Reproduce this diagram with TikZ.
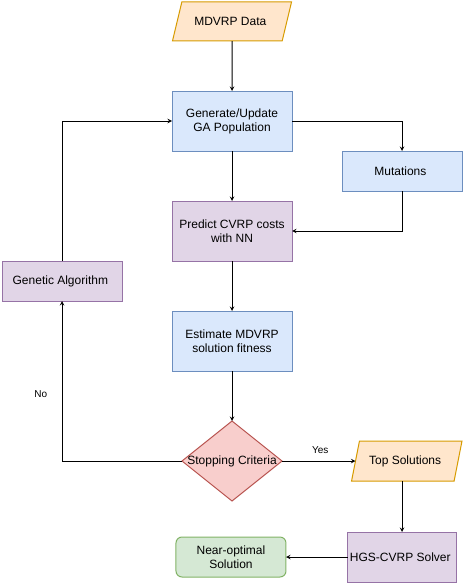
\documentclass[tikz,border=0pt]{standalone}
\usepackage{fontspec}
\setmainfont{Liberation Sans}
\usepackage{tikz}
\usetikzlibrary{shapes}
\usetikzlibrary{positioning}

\definecolor{bluefill}{HTML}{DAE8FC}
\definecolor{bluedraw}{HTML}{6C8EBF}
\definecolor{purplefill}{HTML}{E1D5E7}
\definecolor{purpledraw}{HTML}{9673A6}
\definecolor{orangefill}{HTML}{FFE6CC}
\definecolor{orangedraw}{HTML}{D79B00}
\definecolor{redfill}{HTML}{F8CECC}
\definecolor{reddraw}{HTML}{B85450}
\definecolor{greenfill}{HTML}{D5E8D4}
\definecolor{greendraw}{HTML}{82B366}

\begin{document}
\begin{tikzpicture}[
    x=1pt,
    y=-1pt,
    node distance=50pt,
    font=\fontsize{12}{14}\selectfont,
    box/.style={
        draw,
        line width=1pt,
        outer sep=0pt,
        minimum width=120pt,
        minimum height=60pt,
        inner xsep=2pt,
        align=center
    },
    bluebox/.style={
        box,
        fill=bluefill,
        draw=bluedraw
    },
    purplebox/.style={
        box,
        fill=purplefill,
        draw=purpledraw
    },
    iobox/.style={
        draw=orangedraw,
        fill=orangefill,
        line width=1pt,
        outer sep=0pt,
        trapezium,
        trapezium stretches=true,
        align=center
    },
    arrow/.style={
        ->,
        >=stealth,
        line width=1pt
    },
    edgelabel/.style={
        font=\fontsize{10}{12}\selectfont
    }
]

    \useasboundingbox (0,0) rectangle (464,586);

    \node[iobox,minimum width=120pt,minimum height=39pt,
        trapezium left angle=63,trapezium right angle=117] (data)
    at (232,21.5)
    {
        MDVRP Data
    };

    \node[bluebox] (gen)
    [below=50pt of data]
    {
        Generate/Update\\GA Population
    };

    \node[bluebox,minimum height=40pt] (mut)
    [below right=0pt and 50pt of gen]
    {
        Mutations
    };

    \node[purplebox] (pred)
    [below=50pt of gen]
    {
        Predict CVRP costs\\with NN
    };

    \node[purplebox,minimum height=40pt] (ga)
    [left=50pt of pred,yshift=-50pt]
    {
        Genetic Algorithm
    };

    \node[bluebox] (est)
    [below=50pt of pred]
    {
        Estimate MDVRP\\solution fitness
    };

    \node[diamond,draw=reddraw,fill=redfill,line width=1pt,outer sep=0pt,
        minimum width=100pt,minimum height=80pt,inner sep=0pt,
        label=center:{Stopping Criteria}] (crit)
    [below=50pt of est]
    {};

    \node[iobox,minimum width=111pt,minimum height=40pt,
        trapezium left angle=69,trapezium right angle=111] (top)
    [right=73.5pt of crit]
    {
        Top Solutions
    };

    \node[purplebox,minimum width=106pt,minimum height=50pt] (hgs)
    at (402,557)
    {
        HGS-CVRP Solver
    };

    \node[box,fill=greenfill,draw=greendraw,rounded corners=6pt,
        minimum width=110pt,minimum height=40pt] (near)
    [left=62pt of hgs]
    {
        Near-optimal\\Solution
    };


    \draw[arrow]
    (data) -- (gen);

    \draw[arrow]
    (gen) -- (pred);

    \draw[arrow]
    (gen.east) -| (mut.north);

    \draw[arrow]
    (mut.south) |- (pred.east);

    \draw[arrow]
    (pred) -- (est);

    \draw[arrow]
    (est) -- (crit);

    \draw[arrow]
    (crit.west)
        -| node[edgelabel,pos=0.71,left=11pt]
        {No}
    (ga.south);

    \draw[arrow]
    (ga.north) |- (gen.west);

    \draw[arrow]
    (crit.east)
        -- node[edgelabel,pos=0.52,above=4pt]
        {Yes}
    (top.west);

    \draw[arrow]
    (hgs.north |- top.south) -- (hgs.north);

    \draw[arrow]
    (hgs) -- (near);

\end{tikzpicture}
\end{document}
